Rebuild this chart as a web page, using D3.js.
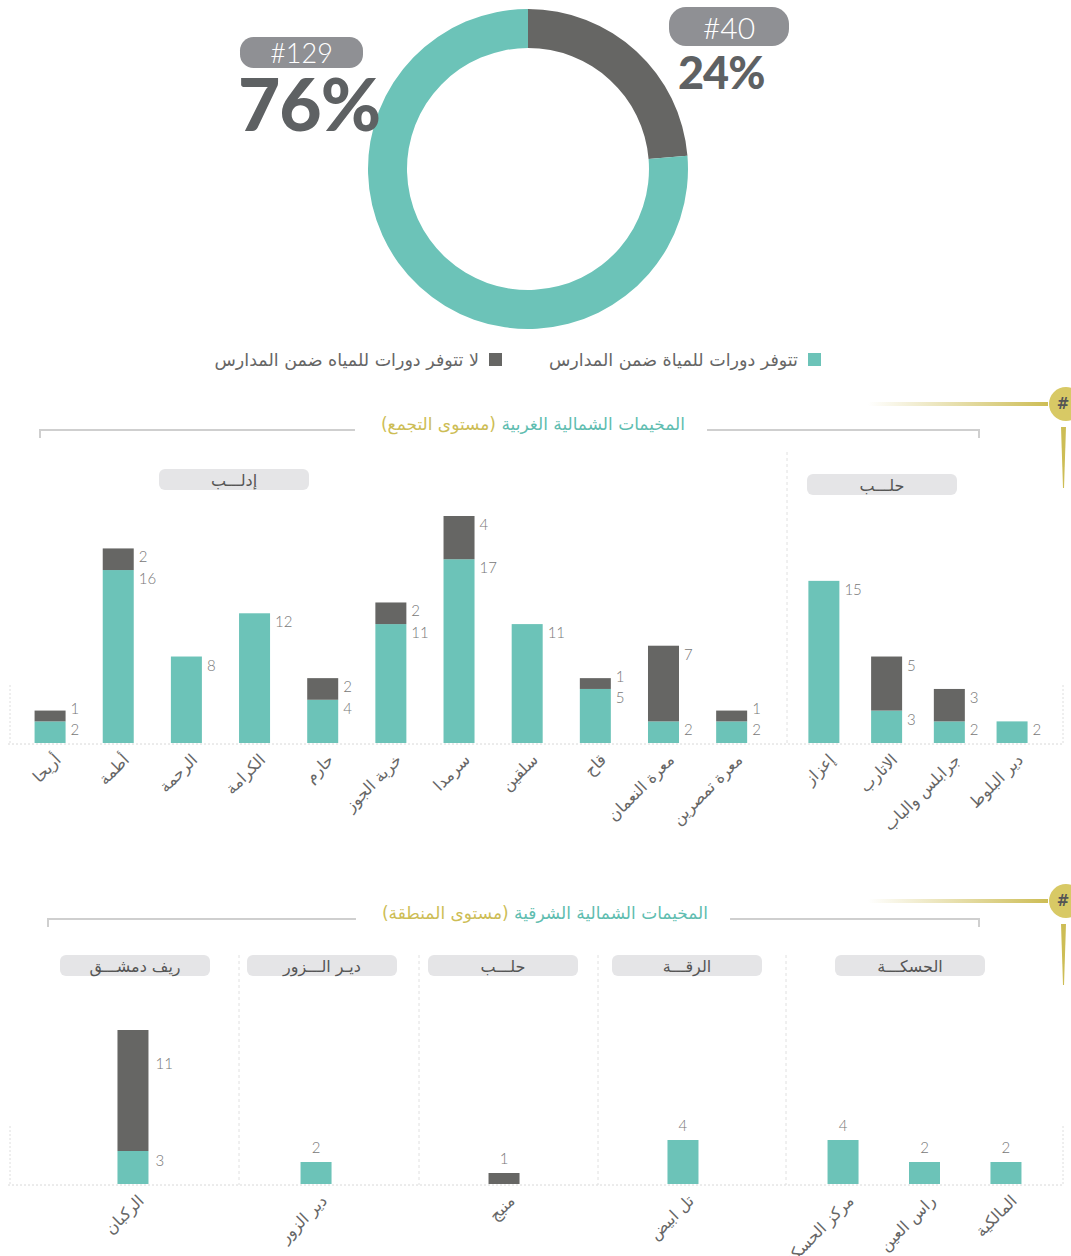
<!DOCTYPE html>
<html>
<head>
<meta charset="UTF-8">
<title>دورات المياه في المدارس</title>
<script src="https://d3js.org/d3.v7.min.js"></script>
<style>
  body { margin: 0; background: #fff; }
  svg text { font-family: "DejaVu Sans", sans-serif; }
  .num { font-family: Lato, Roboto, sans-serif; font-weight: 300; fill: #777; font-size: 15px; }
  .lbl { font-size: 16px; fill: #666; }
</style>
</head>
<body>
<div id="chart"></div>
<script>
// donut: schools without / with toilets
var donutLabels = ["لا تتوفر دورات للمياه ضمن المدارس", "تتوفر دورات للمياة ضمن المدارس"];
var donutValues = [40, 129];

// north-west camps (cluster level)
var nwGroups = ["إدلـــب", "حلـــب"];
var nwCamps = ["أريحا", "أطمة", "الرحمة", "الكرامة", "حارم", "خربة الجوز", "سرمدا", "سلقين", "قاح", "معرة النعمان", "معرة تمصرين",
               "إعزاز", "الاتارب", "جرابلس والباب", "دير البلوط"];
var nwCampGroup = [0,0,0,0,0,0,0,0,0,0,0, 1,1,1,1];
var nwYes = [2, 16, 8, 12, 4, 11, 17, 11, 5, 2, 2, 15, 3, 2, 2];
var nwNo  = [1, 2, 0, 0, 2, 2, 4, 0, 1, 7, 1, 0, 5, 3, 0];

// north-east camps (region level)
var neGroups = ["ريف دمشـــق", "ديـر الـــزور", "حلـــب", "الرقـــة", "الحسكـــة"];
var neCamps = ["الركبان", "دير الزور", "منبج", "تل ابيض", "مركز الحسكة", "راس العين", "المالكية"];
var neCampGroup = [0, 1, 2, 3, 4, 4, 4];
var neYes = [3, 2, 0, 4, 4, 2, 2];
var neNo  = [11, 0, 1, 0, 0, 0, 0];

var teal = "#6cc3b8", dark = "#666664", gold = "#cdbd55", pillGrey = "#e5e5e7";

var svg = d3.select("#chart").append("svg")
    .attr("width", 1071)
    .attr("height", 1256);

// ---------- donut ----------
var total = d3.sum(donutValues);
var pie = d3.pie().sort(null).value(function(d){ return d; });
var arc = d3.arc().innerRadius(121).outerRadius(160);
var donut = svg.append("g").attr("transform", "translate(528,169)");
donut.selectAll("path")
    .data(pie(donutValues))
    .join("path")
    .attr("d", arc)
    .attr("fill", function(d, i){ return i === 0 ? dark : teal; });

function bigLabel(value, px, py, pw, ph, fs, tx, ty, tfs) {
    svg.append("rect").attr("x", px).attr("y", py).attr("width", pw).attr("height", ph)
        .attr("rx", ph / 2.3).attr("fill", "#8f9094");
    svg.append("text").attr("x", px + pw / 2).attr("y", py + ph / 2)
        .attr("text-anchor", "middle").attr("dominant-baseline", "central")
        .style("font-family", "Lato, sans-serif").style("font-weight", 300)
        .style("font-size", fs + "px").attr("fill", "#fff")
        .text("#" + value);
    svg.append("text").attr("x", tx).attr("y", ty)
        .style("font-family", "Lato, sans-serif").style("font-weight", 900)
        .style("font-size", tfs + "px").attr("fill", "#5e6163")
        .style("letter-spacing", "-1px")
        .text(Math.round(value / total * 100) + "%");
}
bigLabel(donutValues[1], 240, 37, 123, 31, 27, 238, 131, 73);
bigLabel(donutValues[0], 669, 7, 120, 39, 30, 678, 89, 45);

// legend
var legend = [{x: 808, c: teal, t: donutLabels[1]}, {x: 489, c: dark, t: donutLabels[0]}];
legend.forEach(function(d){
    svg.append("rect").attr("x", d.x).attr("y", 353).attr("width", 13).attr("height", 13).attr("fill", d.c);
    svg.append("text").attr("x", d.x - 10).attr("y", 360).attr("text-anchor", "end")
        .attr("dominant-baseline", "central").style("font-size", "17.5px").attr("fill", "#666").text(d.t);
});

// ---------- section header with bracket ----------
function header(cx, ty, x0, x1, tealText, goldText) {
    var t = svg.append("text").attr("x", cx).attr("y", ty)
        .attr("direction", "rtl").attr("text-anchor", "middle")
        .style("font-size", "17px");
    t.append("tspan").attr("fill", "#5fbdb0").text(tealText + " ");
    t.append("tspan").attr("fill", gold).text(goldText);
    var bb = t.node().getBBox();
    var ly = ty;
    svg.append("path")
        .attr("d", "M" + x0 + "," + (ly + 8) + "V" + ly + "H" + (bb.x - 26))
        .attr("fill", "none").attr("stroke", "#cfcfcf").attr("stroke-width", 2);
    svg.append("path")
        .attr("d", "M" + (bb.x + bb.width + 22) + "," + ly + "H" + x1 + "V" + (ly + 8))
        .attr("fill", "none").attr("stroke", "#cfcfcf").attr("stroke-width", 2);
}

// gold marker at the right edge
var defs = svg.append("defs");
var grad = defs.append("linearGradient").attr("id", "fade");
grad.append("stop").attr("offset", "0%").attr("stop-color", gold).attr("stop-opacity", 0);
grad.append("stop").attr("offset", "100%").attr("stop-color", gold).attr("stop-opacity", 1);
function marker(cy) {
    svg.append("rect").attr("x", 868).attr("y", cy - 2).attr("width", 180).attr("height", 4).attr("fill", "url(#fade)");
    svg.append("path").attr("d", "M1061," + (cy + 23) + "L1066," + (cy + 23) + "L1064," + (cy + 84) + "L1063," + (cy + 84) + "Z")
        .attr("fill", gold);
    svg.append("circle").attr("cx", 1066).attr("cy", cy).attr("r", 17).attr("fill", "#d8c965");
    svg.append("text").attr("x", 1063).attr("y", cy).attr("text-anchor", "middle").attr("dominant-baseline", "central")
        .style("font-size", "15px").style("font-weight", "bold").attr("fill", "#555").text("#");
}

// ---------- stacked bar panel ----------
function panel(cfg) {
    var g = svg.append("g");
    var y = d3.scaleLinear()
        .domain([0, d3.max(cfg.yes.map(function(v, i){ return v + cfg.no[i]; }))])
        .range([cfg.base, cfg.top]);
    var bw = 31;

    // baseline grid and frame
    g.append("line").attr("x1", 8).attr("x2", 1064).attr("y1", cfg.base + 1).attr("y2", cfg.base + 1)
        .attr("stroke", "#d8d8d8").attr("stroke-dasharray", "2,2");
    [10, 1063].forEach(function(x){
        g.append("line").attr("x1", x).attr("x2", x).attr("y1", cfg.base - 58).attr("y2", cfg.base)
            .attr("stroke", "#dedede").attr("stroke-dasharray", "2,2");
    });
    cfg.spans.slice(1).forEach(function(s){
        g.append("line").attr("x1", s[0]).attr("x2", s[0]).attr("y1", cfg.sepTop).attr("y2", cfg.base + 1)
            .attr("stroke", "#e0e0e0").attr("stroke-dasharray", "3,3");
    });

    var items = [];
    cfg.groups.forEach(function(name, gi){
        var names = cfg.camps.filter(function(c, i){ return cfg.campGroup[i] === gi; });
        var x = d3.scalePoint().domain(names).range(cfg.spans[gi]).padding(cfg.pad).align(cfg.align[gi]);
        cfg.camps.forEach(function(c, i){
            if (cfg.campGroup[i] === gi) items.push({name: c, cx: x(c), yes: cfg.yes[i], no: cfg.no[i]});
        });
        // group pill
        var pc = cfg.pillX[gi];
        var py = cfg.pillY[gi];
        g.append("rect").attr("x", pc - 75).attr("y", py).attr("width", 150).attr("height", 21)
            .attr("rx", 6).attr("fill", pillGrey);
        g.append("text").attr("x", pc).attr("y", py + 11).attr("text-anchor", "middle")
            .attr("dominant-baseline", "central").style("font-size", "16px").attr("fill", "#555").text(name);
    });

    var bars = g.selectAll("g.bar").data(items).join("g").attr("class", "bar");
    bars.append("rect")
        .attr("x", function(d){ return d.cx - bw / 2; })
        .attr("y", function(d){ return y(d.yes); })
        .attr("width", bw)
        .attr("height", function(d){ return cfg.base - y(d.yes); })
        .attr("fill", teal);
    bars.filter(function(d){ return d.no > 0; }).append("rect")
        .attr("x", function(d){ return d.cx - bw / 2; })
        .attr("y", function(d){ return y(d.yes + d.no); })
        .attr("width", bw)
        .attr("height", function(d){ return y(d.yes) - y(d.yes + d.no); })
        .attr("fill", dark);

    // value labels
    items.forEach(function(d){
        var tTop = y(d.yes), dTop = y(d.yes + d.no);
        var labs = [];
        if (cfg.mode === "side") {
            var ty = tTop + 8;
            if (d.yes > 0) labs.push({v: d.yes, x: d.cx + bw / 2 + 5, y: ty, a: "start"});
            if (d.no > 0) labs.push({v: d.no, x: d.cx + bw / 2 + 5, y: d.yes > 0 ? Math.min(dTop + 8, ty - 21) : dTop + 8, a: "start"});
        } else {
            if (d.yes > 0 && d.no > 0) {
                labs.push({v: d.yes, x: d.cx + bw / 2 + 7, y: tTop + 0.27 * (cfg.base - tTop), a: "start"});
                labs.push({v: d.no, x: d.cx + bw / 2 + 7, y: dTop + 0.27 * (tTop - dTop), a: "start"});
            } else {
                labs.push({v: d.yes + d.no, x: d.cx, y: dTop - 15, a: "middle"});
            }
        }
        labs.forEach(function(l){
            g.append("text").attr("class", "num").attr("x", l.x).attr("y", l.y)
                .attr("text-anchor", l.a).attr("dominant-baseline", "central").text(l.v);
        });
    });

    // rotated camp names
    bars.append("text").attr("class", "lbl")
        .attr("transform", function(d){ return "translate(" + (d.cx + 8) + "," + (cfg.base + 14) + ") rotate(-45)"; })
        .attr("text-anchor", "end")
        .attr("dominant-baseline", "central")
        .text(function(d){ return d.name; });
}

// ---------- section 1 ----------
header(533, 430, 40, 979, "المخيمات الشمالية الغربية", "(مستوى التجمع)");
marker(404);
panel({
    groups: nwGroups, camps: nwCamps, campGroup: nwCampGroup, yes: nwYes, no: nwNo,
    spans: [[10, 787], [787, 1063]], pad: 0.7, align: [0.42, 0.42],
    pillX: [234, 882], pillY: [469, 474],
    base: 743, top: 516, sepTop: 452, mode: "side"
});

// ---------- section 2 ----------
header(545, 919, 48, 979, "المخيمات الشمالية الشرقية", "(مستوى المنطقة)");
marker(901);
panel({
    groups: neGroups, camps: neCamps, campGroup: neCampGroup, yes: neYes, no: neNo,
    spans: [[10, 239], [239, 419], [419, 598], [598, 786], [786, 1063]], pad: 0.7,
    align: [0.537, 0.428, 0.475, 0.452, 0.5],
    pillX: [135, 322, 503, 687, 910], pillY: [955, 955, 955, 955, 955],
    base: 1184, top: 1030, sepTop: 955, mode: "top"
});
</script>
</body>
</html>
